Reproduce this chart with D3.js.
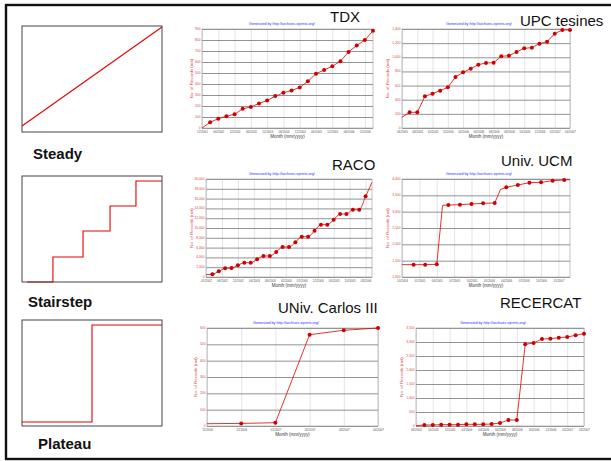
<!DOCTYPE html>
<html><head><meta charset="utf-8">
<script src="https://cdn.jsdelivr.net/npm/d3@7"></script>
<style>body{margin:0;background:#fff}svg{display:block}</style>
</head><body>
<script>
// ---------- schematic panels (normalised 0..1) ----------
const steadyX = [0, 1];
const steadyY = [0.056, 0.99];
const stairX = [0.036, 0.221, 0.436, 0.629, 0.814, 1];
const stairY = [0, 0.236, 0.481, 0.717, 0.953, 0.953];
const plateauX = [0, 0.5, 1];
const plateauY = [0.038, 0.953, 0.953];
const panelLabels = ["Steady", "Stairstep", "Plateau"];

// ---------- TDX ----------
const tdxXTicks = [0, 6, 12, 18, 24, 30, 36, 42, 48, 54, 60];
const tdxXLabels = ["12/2001","06/2002","12/2002","06/2003","12/2003","06/2004","12/2004","06/2005","12/2005","06/2006","12/2006"];
const tdxMonths = [0,3,6,9,12,15,18,21,24,27,30,33,36,39,42,45,48,51,54,57,60,63];
const tdxValues = [0,52,85,107,125,174,192,223,250,290,320,341,369,424,494,527,561,607,692,750,799,884];
const tdxYTicks = [0,100,200,300,400,500,600,700,800,900];
const tdxNoDot = [0];

// ---------- UPC tesines ----------
const upcXTicks = [0,2,4,6,8,10,12,14,16,18,20,22];
const upcXLabels = ["06/2005","08/2005","10/2005","12/2005","02/2006","04/2006","06/2006","08/2006","10/2006","12/2006","02/2007","04/2007"];
const upcMonths = [0,1,2,3,4,5,6,7,8,9,10,11,12,13,14,15,16,17,18,19,20,21,22];
const upcValues = [151,222,222,448,486,528,575,721,787,839,896,919,924,1013,1023,1075,1127,1136,1193,1221,1334,1386,1386];
const upcYTicks = [0,200,400,600,800,1000,1200,1400];
const upcNoDot = [0];

// ---------- RACO ----------
const racoXTicks = [0,5,10,15,20,25,30,35,40,45,50];
const racoXLabels = ["01/2002","06/2002","11/2002","04/2003","09/2003","02/2004","07/2004","12/2004","05/2005","10/2005","03/2006"];
const racoMonths = [0,2,4,6,8,10,12,14,16,18,20,22,24,26,28,30,32,34,36,38,40,42,44,46,48,50,52];
const racoValues = [476,544,1156,1768,1836,2380,2924,2924,3604,4284,4284,5100,6120,6120,7072,8228,8228,9452,10676,10676,11696,12852,12852,13736,13736,16456,19312];
const racoYTicks = [0,2000,4000,6000,8000,10000,12000,14000,16000,18000,20000];
const racoNoDot = [0, 26];

// ---------- Univ. UCM ----------
const ucmXTicks = [0,3,6,9,12,15,18,21,24,27];
const ucmXLabels = ["10/2004","01/2005","04/2005","07/2005","10/2005","01/2006","04/2006","07/2006","10/2006","01/2007"];
const ucmMonths = [0,2,4,6,7,8,10,12,14,16,17,18,20,22,24,26,28,29];
const ucmValues = [1378,1378,1378,1388,3195,3204,3214,3235,3255,3265,3680,3745,3816,3888,3898,3949,3969,3980];
const ucmYTicks = [1000,1500,2000,2500,3000,3500,4000];
const ucmNoDot = [0, 4, 10, 17];

// ---------- UNiv. Carlos III ----------
const uc3XTicks = [0,1,2,3,4,5];
const uc3XLabels = ["11/2006","12/2006","01/2007","02/2007","03/2007","04/2007"];
const uc3Months = [0,1,2,3,4,5];
const uc3Values = [14,16,20,559,586,600];
const uc3YTicks = [0,100,200,300,400,500,600];
const uc3NoDot = [0];

// ---------- RECERCAT ----------
const recXTicks = [0,2,4,6,8,10,12,14,16,18,20];
const recXLabels = ["08/2005","10/2005","12/2005","02/2006","04/2006","06/2006","08/2006","10/2006","12/2006","02/2007","04/2007"];
const recMonths = [0,1,2,3,4,5,6,7,8,9,10,11,12,13,14,15,16,17,18,19,20];
const recValues = [12,36,36,48,48,48,60,60,60,71,107,214,214,2917,2964,3107,3119,3155,3179,3238,3298];
const recYTicks = [0,500,1000,1500,2000,2500,3000,3500];
const recNoDot = [0];

const FONT = '"Liberation Sans", Arial, sans-serif';
const svg = d3.select("body").append("svg").attr("width", 611).attr("height", 461);

// outer frame
svg.append("rect").attr("x", 6).attr("y", 5).attr("width", 620).attr("height", 454)
  .attr("fill", "none").attr("stroke", "#111").attr("stroke-width", 2.4);

// ---------- schematic panels ----------
const panels = [
  {xs: steadyX, ys: steadyY, top: 26, curve: d3.curveLinear, label: panelLabels[0], lx: 33, ly: 159},
  {xs: stairX, ys: stairY, top: 176, curve: d3.curveStepAfter, label: panelLabels[1], lx: 28, ly: 307},
  {xs: plateauX, ys: plateauY, top: 320, curve: d3.curveStepAfter, label: panelLabels[2], lx: 38, ly: 449}
];
panels.forEach(p => {
  const x = d3.scaleLinear().domain([0, 1]).range([22, 162]);
  const y = d3.scaleLinear().domain([0, 1]).range([p.top + 106, p.top]);
  svg.append("path").datum(d3.zip(p.xs, p.ys))
    .attr("d", d3.line().x(d => x(d[0])).y(d => y(d[1])).curve(p.curve))
    .attr("fill", "none").attr("stroke", "#e60000").attr("stroke-width", 1.1);
  svg.append("rect").attr("x", 22).attr("y", p.top).attr("width", 140).attr("height", 106)
    .attr("fill", "none").attr("stroke", "#444").attr("stroke-width", 1);
  svg.append("text").attr("x", p.lx).attr("y", p.ly).text(p.label)
    .attr("font-family", FONT).attr("font-weight", "bold").attr("font-size", 15).attr("fill", "#111");
});

// ---------- mini charts ----------
function drawChart(c) {
  const g = svg.append("g");
  const x = d3.scaleLinear().domain(c.xDomain).range([c.x0, c.x1]);
  const y = d3.scaleLinear().domain(c.yDomain).range([c.y1, c.y0]);
  const w = c.x1 - c.x0, h = c.y1 - c.y0;

  g.append("g").attr("transform", `translate(0,${c.y1})`)
    .call(d3.axisBottom(x).tickValues(c.xTicks).tickSize(-h).tickFormat(""))
    .call(s => { s.select(".domain").remove(); s.selectAll("line").attr("stroke", "#d2d2d2").attr("stroke-width", 0.6); });
  g.append("g").attr("transform", `translate(${c.x0},0)`)
    .call(d3.axisLeft(y).tickValues(c.yTicks).tickSize(-w).tickFormat(""))
    .call(s => { s.select(".domain").remove(); s.selectAll("line").attr("stroke", "#777").attr("stroke-width", 0.8); });
  g.append("rect").attr("x", c.x0).attr("y", c.y0).attr("width", w).attr("height", h)
    .attr("fill", "none").attr("stroke", "#999").attr("stroke-width", 0.6);

  g.append("g").attr("transform", `translate(${c.x0 - 1.5},-0.6)`)
    .call(d3.axisLeft(y).tickValues(c.yTicks).tickSize(0).tickPadding(0))
    .call(s => { s.select(".domain").remove();
      s.attr("font-size", 3.3).attr("font-family", FONT);
      s.selectAll("text").attr("fill", "#e04848"); });
  g.append("g").attr("transform", `translate(0,${c.y1 + 2.4})`)
    .call(d3.axisBottom(x).tickValues(c.xTicks).tickSize(0).tickPadding(0)
      .tickFormat((d, i) => c.xLabels[i]))
    .call(s => { s.select(".domain").remove();
      s.attr("font-size", 3.0).attr("font-family", FONT);
      s.selectAll("text").attr("fill", "#555"); });

  const pts = d3.zip(c.months, c.values);
  g.append("path").datum(pts)
    .attr("d", d3.line().x(d => x(d[0])).y(d => y(d[1])).curve(c.curve || d3.curveLinear))
    .attr("fill", "none").attr("stroke", "#e00000").attr("stroke-width", 0.8);
  g.selectAll("circle").data(pts.filter((d, i) => !c.noDot.includes(i))).join("circle")
    .attr("cx", d => x(d[0])).attr("cy", d => y(d[1])).attr("r", 2).attr("fill", "#d00000");

  g.append("text").attr("x", c.genX).attr("y", c.genY).attr("text-anchor", "middle")
    .attr("font-family", FONT).attr("font-size", 3.7).attr("fill", "#2a2aff")
    .text("Generated by http://archives.eprints.org/");
  g.append("text").attr("transform", `translate(${c.ytX},${(c.y0 + c.y1) / 2}) rotate(-90)`)
    .attr("text-anchor", "middle").attr("font-family", FONT).attr("font-size", 4.4).attr("fill", "#e04040")
    .text("No. of Records (net)");
  g.append("text").attr("x", (c.x0 + c.x1) / 2).attr("y", c.y1 + 10).attr("text-anchor", "middle")
    .attr("font-family", FONT).attr("font-size", 4.5).attr("fill", "#333")
    .text("Month (mm/yyyy)");
  g.append("text").attr("x", c.tX).attr("y", c.tY).attr("font-family", FONT).attr("font-size", 15)
    .attr("fill", "#111").text(c.title);
}

drawChart({title: "TDX", tX: 330, tY: 22, x0: 202, x1: 373, y0: 29, y1: 128, genX: 282, genY: 25, ytX: 193,
  xDomain: [0, 63], yDomain: [0, 900], xTicks: tdxXTicks, xLabels: tdxXLabels, yTicks: tdxYTicks,
  months: tdxMonths, values: tdxValues, noDot: tdxNoDot});
drawChart({title: "UPC tesines", tX: 520, tY: 26, x0: 402, x1: 570, y0: 29, y1: 128, genX: 479, genY: 25, ytX: 389,
  xDomain: [0, 22], yDomain: [0, 1400], xTicks: upcXTicks, xLabels: upcXLabels, yTicks: upcYTicks,
  months: upcMonths, values: upcValues, noDot: upcNoDot});
drawChart({title: "RACO", tX: 332, tY: 170, x0: 206, x1: 372, y0: 179, y1: 277, genX: 282, genY: 175, ytX: 193,
  xDomain: [0, 52], yDomain: [0, 20000], xTicks: racoXTicks, xLabels: racoXLabels, yTicks: racoYTicks,
  months: racoMonths, values: racoValues, noDot: racoNoDot, curve: d3.curveMonotoneX});
drawChart({title: "Univ. UCM", tX: 501, tY: 166, x0: 402, x1: 570, y0: 179, y1: 277, genX: 479, genY: 175, ytX: 389,
  xDomain: [0, 29], yDomain: [1000, 4000], xTicks: ucmXTicks, xLabels: ucmXLabels, yTicks: ucmYTicks,
  months: ucmMonths, values: ucmValues, noDot: ucmNoDot});
drawChart({title: "UNiv. Carlos III", tX: 278, tY: 313, x0: 207, x1: 378, y0: 328, y1: 426, genX: 286, genY: 324, ytX: 197,
  xDomain: [0, 5], yDomain: [0, 600], xTicks: uc3XTicks, xLabels: uc3XLabels, yTicks: uc3YTicks,
  months: uc3Months, values: uc3Values, noDot: uc3NoDot});
drawChart({title: "RECERCAT", tX: 500, tY: 308, x0: 416, x1: 584, y0: 328, y1: 426, genX: 493, genY: 324, ytX: 403,
  xDomain: [0, 20], yDomain: [0, 3500], xTicks: recXTicks, xLabels: recXLabels, yTicks: recYTicks,
  months: recMonths, values: recValues, noDot: recNoDot});
</script>
</body></html>
